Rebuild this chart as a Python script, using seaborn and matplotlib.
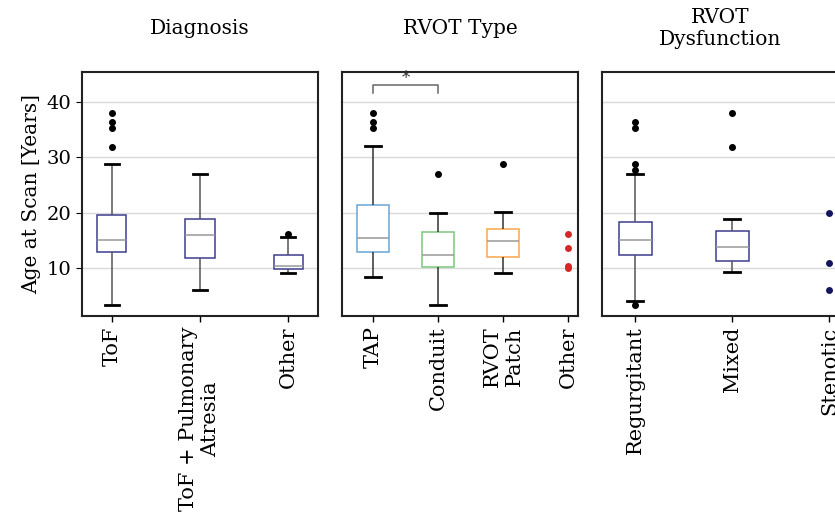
import numpy as np
import pandas as pd
import matplotlib
matplotlib.use("Agg")
import matplotlib.pyplot as plt
import seaborn as sns

# ages at scan (years), estimated from the figure
tof = [3.2, 8.0, 10.5, 11.8, 12.5, 12.95, 13.5, 14.0, 14.5, 14.8, 14.95,
       15.5, 16.5, 17.5, 18.5, 19.5, 28.7, 31.9, 35.2, 36.45, 37.95]
tof_pa = [6.0, 9.5, 11.75, 14.0, 16.0, 17.5, 18.9, 22.0, 27.0]
diag_other = [9.0, 9.5, 9.8, 10.1, 10.4, 11.5, 12.3, 15.5, 16.15]

tap = [8.4, 10.0, 11.5, 12.5, 12.95, 13.5, 14.2, 15.0, 15.4, 16.5, 18.0,
       20.0, 21.3, 32.0, 35.2, 36.45, 37.95]
conduit = [3.2, 8.0, 10.2, 11.0, 12.3, 14.5, 16.5, 19.9, 27.0]
rvot_patch = [9.1, 11.0, 12.05, 13.5, 14.8, 16.0, 17.05, 20.1, 28.7]
type_other = [16.1, 13.6, 10.3, 9.9]

regurgitant = [3.2, 4.1, 8.0, 10.0, 11.5, 12.3, 13.0, 13.8, 14.3, 14.7, 14.95,
               15.5, 16.2, 17.0, 17.8, 18.3, 27.0, 27.6, 28.7, 35.2, 36.45]
mixed = [9.3, 10.0, 10.8, 11.3, 12.5, 13.2, 13.75, 15.0, 16.0, 16.6, 18.9,
         31.9, 37.95]
stenotic = [19.9, 10.9, 6.0]

diag_labels = ["ToF", "ToF + Pulmonary\nAtresia", "Other"]
type_labels = ["TAP", "Conduit", "RVOT\nPatch", "Other"]
dysf_labels = ["Regurgitant", "Mixed", "Stenotic"]


def to_frame(groups, names):
    rows = []
    for vals, name in zip(groups, names):
        for v in vals:
            rows.append((name, v))
    return pd.DataFrame(rows, columns=["group", "age"])


plt.rcParams["font.family"] = "DejaVu Serif"
plt.rcParams["font.size"] = 14

fig = plt.figure(figsize=(8.35, 5.13), dpi=100)
W, H = 835, 513
lefts = [82, 342, 602]
axes = [fig.add_axes([l / W, 1 - 316 / H, 236 / W, 244 / H]) for l in lefts]

panels = [
    dict(ax=axes[0], box=[tof, tof_pa, diag_other], names=diag_labels, box_names=diag_labels,
         edges=["#3d3d8f"] * 3, width=0.33, xlim=(-0.34, 2.34), pts=None,
         whisk="#555555", title="Diagnosis"),
    dict(ax=axes[1], box=[tap, conduit, rvot_patch], names=type_labels, box_names=type_labels[:3],
         edges=["#6aa6d6", "#7cc87c", "#ffa64d"], width=0.5, xlim=(-0.48, 3.15),
         pts=(type_other, "Other", "#d62728"), whisk="#333333", title="RVOT Type"),
    dict(ax=axes[2], box=[regurgitant, mixed], names=dysf_labels, box_names=dysf_labels[:2],
         edges=["#3d3d8f"] * 2, width=0.34, xlim=(-0.34, 2.09),
         pts=(stenotic, "Stenotic", "#15155e"), whisk="#555555", title="RVOT\nDysfunction"),
]

for p in panels:
    ax = p["ax"]
    df = to_frame(p["box"], p["box_names"])
    sns.boxplot(data=df, x="group", y="age", order=p["names"], ax=ax, width=p["width"],
                color="white", linewidth=1.1, fliersize=4,
                flierprops=dict(marker="o", markerfacecolor="black", markeredgecolor="black"),
                whiskerprops=dict(color=p["whisk"], linewidth=1.1),
                capprops=dict(color="black", linewidth=2.0),
                medianprops=dict(color="#999999", linewidth=1.1))
    for patch, ec in zip(ax.patches, p["edges"]):
        patch.set_edgecolor(ec)
        patch.set_facecolor("white")
    if p["pts"] is not None:
        vals, name, col = p["pts"]
        sdf = pd.DataFrame({"group": [name] * len(vals), "age": vals})
        sns.stripplot(data=sdf, x="group", y="age", order=p["names"], ax=ax,
                      jitter=False, color=col, size=5, zorder=3)
    ax.set_xlim(*p["xlim"])
    ax.set_ylim(1.3, 45.4)
    ax.set_yticks([10, 20, 30, 40])
    ax.yaxis.grid(True, color="#d9d9d9", linewidth=1.0)
    ax.set_axisbelow(True)
    ax.set_xlabel("")
    ax.set_ylabel("")
    ax.set_xticks(range(len(p["names"])))
    ax.set_xticklabels(p["names"], rotation=90, fontsize=15)
    ax.tick_params(axis="x", length=4, width=1)
    for s in ax.spines.values():
        s.set_linewidth(1.5)
        s.set_color("#222222")
    ax.text(0.5, 1.18, p["title"], transform=ax.transAxes, ha="center", va="center",
            fontsize=14.5, linespacing=1.2)

axes[0].set_ylabel("Age at Scan [Years]", fontsize=14.5)
axes[0].tick_params(axis="y", length=4, labelsize=14)
for ax in axes[1:]:
    ax.tick_params(axis="y", left=False, labelleft=False)

# significance bracket TAP vs Conduit
ax = axes[1]
ax.plot([0, 0, 1, 1], [41.6, 43.1, 43.1, 41.6], color="#666666", linewidth=1.1)
ax.text(0.5, 44.3, "*", ha="center", va="center", fontsize=12, color="#333333")

fig.savefig("out.png", dpi=100)
